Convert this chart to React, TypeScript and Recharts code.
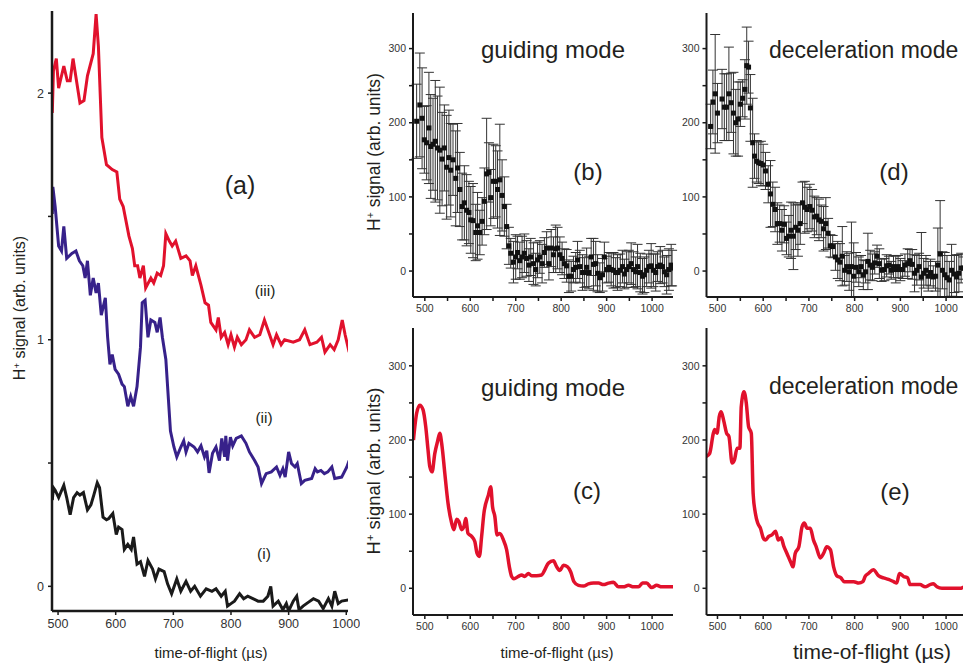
import React from 'react';
import { LineChart, Line, XAxis, YAxis, ComposedChart, Scatter, ErrorBar } from 'recharts';

// panel (a): three stacked traces, time in µs
const aRedTime = [490,492,497,501,510,516,521,526,538,545,551,561,566,570,576,584,594,602,607,613,623,629,633,638,642,648,652,661,666,672,678,683,687,693,698,704,713,722,729,733,739,748,755,761,765,774,778,783,789,795,800,806,811,818,826,832,841,850,858,867,873,879,887,893,908,919,928,937,949,957,963,972,979,986,993,998,1005];
const aRedSignal = [1.92,2.09,2.14,2.02,2.11,2.05,2.05,2.14,1.96,1.97,2.07,2.16,2.32,2.19,1.82,1.71,1.69,1.68,1.57,1.54,1.42,1.37,1.30,1.30,1.25,1.30,1.21,1.25,1.23,1.27,1.26,1.30,1.43,1.40,1.38,1.40,1.33,1.34,1.32,1.26,1.30,1.22,1.15,1.14,1.07,1.04,1.09,1.01,1.03,0.98,1.02,0.97,1.01,0.98,1.00,1.04,1.01,1.02,1.08,1.02,0.98,1.02,0.98,1.00,0.99,1.00,1.04,0.98,0.99,1.01,0.95,0.98,0.96,1.00,1.08,1.02,0.95];

const aPurpleTime = [490,491,495,501,506,510,515,524,531,537,543,547,551,556,561,566,570,575,582,586,590,594,599,605,611,615,621,626,631,637,643,646,651,656,661,668,672,677,681,687,695,701,706,713,718,722,727,736,742,748,754,758,762,768,774,780,784,789,791,794,799,803,809,818,826,832,841,847,853,861,870,879,885,890,894,900,905,911,915,922,928,940,946,950,956,962,968,975,980,992,1001,1005];
const aPurpleSignal = [1.51,1.62,1.54,1.38,1.36,1.46,1.33,1.35,1.36,1.32,1.30,1.25,1.32,1.18,1.25,1.19,1.23,1.10,1.17,1.01,0.90,0.94,0.88,0.86,0.82,0.81,0.73,0.77,0.73,0.81,0.97,1.15,1.16,1.01,1.08,1.07,1.03,1.09,1.01,0.92,0.63,0.565,0.525,0.565,0.59,0.545,0.58,0.565,0.545,0.57,0.525,0.55,0.46,0.54,0.565,0.51,0.60,0.525,0.61,0.51,0.605,0.57,0.60,0.61,0.58,0.545,0.51,0.484,0.417,0.457,0.464,0.484,0.45,0.477,0.443,0.545,0.498,0.484,0.498,0.417,0.43,0.437,0.477,0.464,0.47,0.457,0.464,0.484,0.437,0.443,0.484,0.51];

const aBlackTime = [490,492,495,501,510,515,521,527,533,538,544,551,557,562,568,572,578,584,588,595,601,605,611,615,621,627,631,637,643,650,656,664,669,675,684,690,697,706,713,722,730,737,747,757,767,774,783,790,794,800,806,815,822,829,838,847,856,864,869,873,882,890,896,900,908,914,918,925,934,943,952,960,969,975,980,986,992,1005];
const aBlackSignal = [0.35,0.40,0.39,0.36,0.41,0.36,0.29,0.36,0.38,0.37,0.38,0.31,0.33,0.37,0.42,0.40,0.28,0.27,0.275,0.295,0.21,0.24,0.23,0.15,0.17,0.15,0.20,0.09,0.10,0.04,0.105,0.07,0.03,0.07,0.06,0.01,-0.03,0.03,-0.02,0.02,-0.02,0.00,-0.04,-0.01,-0.02,-0.01,-0.04,-0.02,-0.08,-0.07,-0.06,-0.03,-0.05,-0.04,-0.05,-0.06,-0.06,-0.04,0.00,-0.08,-0.06,-0.095,-0.07,-0.1,-0.06,-0.04,-0.095,-0.08,-0.065,-0.05,-0.06,-0.09,-0.05,-0.08,-0.02,-0.07,-0.06,-0.055];

// panel (b): guiding mode, points with error bars
const bTime = [482,489,494,499,504,509,513,518,523,528,533,538,543,548,553,557,562,568,572,577,582,587,592,597,601,606,612,616,621,626,631,636,641,645,651,656,660,665,670,675,680,685,689,695,700,704,709,714,719,724,729,733,739,744,748,753,758,763,768,773,778,783,788,792,797,802,807,812,817,822,827,832,836,841,847,851,856,861,866,871,876,880,885,891,895,900,905,910,915,920,924,930,935,939,944,949,954,959,964,968,974,979,983,988,993,998,1003,1008,1012,1018,1023,1027,1032,1037,1042,1044];
const bSignal = [202,224,206,177,173,193,168,171,175,166,163,151,166,140,153,136,150,125,139,110,87,92,82,79,69,68,52,61,52,67,94,131,133,99,121,121,110,123,102,87,60,34,24,12,19,25,14,19,24,17,8,19,10,2,15,19,10,25,31,10,31,22,30,31,22,17,10,7,-7,-7,2,5,15,6,-2,-2,5,-2,19,9,10,-3,-9,-5,19,2,5,2,1,-2,-2,1,6,-4,2,6,10,2,-1,6,-2,-7,-5,1,6,7,1,-2,6,8,6,-1,-5,2,8,4];
const bError = [50,70,68,45,50,75,70,62,82,70,85,63,58,70,64,63,48,64,60,50,45,50,48,42,45,50,38,45,30,32,45,75,40,38,50,48,52,75,48,40,30,25,20,28,30,22,25,28,26,24,22,25,28,22,24,22,26,20,22,22,25,24,32,28,24,22,20,22,22,20,18,20,25,22,24,20,26,22,25,35,30,25,20,22,20,18,20,22,24,20,24,22,22,20,24,22,28,24,20,30,26,24,24,22,22,30,22,25,20,25,22,20,26,28,28,24];

// panel (d): deceleration mode, points with error bars
const dTime = [485,490,495,500,510,515,520,525,530,535,540,545,550,555,560,564,568,572,577,581,586,590,595,600,605,611,616,621,626,631,636,641,646,651,656,661,666,671,676,681,686,691,696,702,707,712,717,722,727,732,737,742,747,752,758,763,768,773,778,783,788,793,798,803,809,814,819,824,829,834,839,844,849,854,859,865,870,875,880,885,890,895,900,905,910,916,921,926,931,936,941,946,951,956,961,966,972,977,982,987,992,997,1002,1007,1012,1018,1023,1028,1033,1038];
const dSignal = [195,228,239,213,232,221,221,239,227,213,200,205,225,233,245,277,275,220,173,155,148,146,145,143,135,117,104,90,83,64,64,55,63,44,47,55,47,59,55,64,92,86,83,87,82,73,74,69,67,57,64,51,34,33,19,15,12,20,1,6,-1,6,-7,5,-1,6,-5,-1,13,8,5,11,20,10,1,2,7,8,1,6,2,6,2,2,8,10,14,9,-3,1,6,-8,-3,1,-7,-2,-8,-7,8,23,1,-5,-9,-12,1,-4,-8,-3,4,4];
const dError = [30,43,80,40,40,45,45,63,40,55,45,50,30,25,40,52,35,45,60,30,28,28,30,28,25,25,45,30,30,28,25,28,25,22,28,38,45,30,35,28,28,35,30,30,28,28,25,28,22,30,35,20,15,15,18,25,25,40,20,20,25,60,45,20,20,15,20,15,38,20,18,15,15,20,15,15,15,12,12,15,18,15,15,12,15,20,15,20,25,20,18,60,20,20,20,18,15,20,50,72,25,30,30,25,35,25,30,25,20,15];

// panel (c): guiding mode, simulation
const cTime = [475,482,489,496,502,507,511,516,522,528,533,538,544,551,559,564,570,575,581,586,590,595,603,610,615,620,625,630,640,645,649,654,659,665,673,680,686,691,696,706,713,720,728,735,746,757,764,772,783,790,797,805,814,821,828,838,849,860,871,882,893,904,915,926,937,948,959,970,979,988,999,1010,1021,1032,1046];
const cSignal = [200,236,247,241,218,187,164,157,182,198,209,191,155,115,88,79,93,90,79,83,94,74,70,63,47,43,70,101,126,137,110,97,72,74,65,52,29,16,13,16,18,16,20,17,17,18,25,34,37,29,24,31,29,22,9,4,3,6,7,7,5,7,8,2,2,4,2,2,7,7,1,4,2,2,2];

// panel (e): deceleration mode, simulation
const eTime = [476,483,491,494,499,504,508,514,520,525,532,537,543,549,552,558,563,568,574,578,583,588,594,600,605,612,619,627,633,639,645,652,661,665,670,678,685,690,696,703,710,716,725,732,739,747,754,761,770,777,787,798,809,818,823,830,841,852,863,874,885,892,898,907,916,921,932,943,954,965,972,980,991,1002,1016,1031,1038];
const eSignal = [178,182,209,214,209,232,238,225,209,205,169,173,189,189,245,265,250,218,209,128,101,88,81,68,65,70,72,77,65,68,57,47,34,29,47,56,83,88,81,81,65,56,41,47,56,52,29,17,14,9,9,9,7,9,16,20,25,17,14,12,9,7,20,16,14,5,5,5,2,5,6,2,0,0,0,0,2];

const aTicksX = [500, 600, 700, 800, 900, 1000];
const aTicksY = [0, 0.5, 1, 1.5, 2];
const smallTicksX = [500, 550, 600, 650, 700, 750, 800, 850, 900, 950, 1000];
const smallTicksY = [0, 50, 100, 150, 200, 250, 300];

const FONT = '"Liberation Sans", Arial, Helvetica, sans-serif';
const RED = '#e1112c';
const PURPLE = '#37218a';
const INK = '#1a1a1a';
const ERR_Y_MIN = -35;

const zip = (t: number[], v: number[]) => t.map((x, i) => ({ t: x, v: v[i] }));

// error bars are cut at the bottom axis, as in the original figure
const zipErr = (t: number[], v: number[], e: number[]) =>
  t.map((x, i) => ({ t: x, v: v[i], err: [Math.min(e[i], v[i] - ERR_Y_MIN), e[i]] }));

const square = (p: any) => <rect x={p.cx - 2.5} y={p.cy - 2.5} width={5} height={5} fill="#111" />;

const hundreds = (v: number) => (v % 100 === 0 ? String(v) : '');

function Txt({ x, y, size, children, rotate, left }: any) {
  return (
    <div
      style={{
        position: 'absolute',
        left: x,
        top: y,
        transform: `translate(${left ? '0' : '-50%'},-50%)${rotate ? ' rotate(-90deg)' : ''}`,
        fontSize: size,
        fontFamily: FONT,
        color: '#231f20',
        whiteSpace: 'nowrap',
        lineHeight: 1,
      }}
    >
      {children}
    </div>
  );
}

const ylabel = (
  <>
    H<sup style={{ fontSize: '0.6em', verticalAlign: '0.55em' }}>+</sup> signal (arb. units)
  </>
);

const axisStyle = (w: number) => ({ stroke: INK, strokeWidth: w });
const smallTick = { fill: '#333', fontSize: 10.5, fontFamily: FONT };

function ErrPanel({ data, domainX, width, left, right }: any) {
  // plot area: top 13, bottom 297 (chart height 320)
  return (
    <ComposedChart width={width} height={320} margin={{ top: 13, right, bottom: 0, left: left - 30 }}>
      <XAxis
        type="number"
        dataKey="t"
        domain={domainX}
        allowDataOverflow
        ticks={smallTicksX}
        interval={0}
        tickFormatter={hundreds}
        height={23}
        tickSize={4}
        tickMargin={4}
        axisLine={axisStyle(2)}
        tickLine={axisStyle(1.5)}
        tick={smallTick}
      />
      <YAxis
        type="number"
        dataKey="v"
        domain={[ERR_Y_MIN, 348]}
        allowDataOverflow
        ticks={smallTicksY}
        interval={0}
        tickFormatter={hundreds}
        width={30}
        tickSize={4}
        tickMargin={3}
        axisLine={axisStyle(2)}
        tickLine={axisStyle(1.5)}
        tick={smallTick}
      />
      <Scatter data={data} dataKey="v" shape={square} isAnimationActive={false}>
        <ErrorBar dataKey="err" direction="y" width={5} stroke="#333" strokeWidth={1} />
      </Scatter>
    </ComposedChart>
  );
}

function SimPanel({ data, domainX, width, left, right }: any) {
  // plot area: top 8, bottom 295 (chart height 345)
  return (
    <LineChart width={width} height={345} margin={{ top: 8, right, bottom: 27, left: left - 30 }}>
      <XAxis
        type="number"
        dataKey="t"
        domain={domainX}
        allowDataOverflow
        ticks={smallTicksX}
        interval={0}
        tickFormatter={hundreds}
        height={23}
        tickSize={4}
        tickMargin={4}
        axisLine={axisStyle(2)}
        tickLine={axisStyle(1.5)}
        tick={smallTick}
      />
      <YAxis
        type="number"
        domain={[-36, 351]}
        allowDataOverflow
        ticks={smallTicksY}
        interval={0}
        tickFormatter={hundreds}
        width={30}
        tickSize={4}
        tickMargin={3}
        axisLine={axisStyle(2)}
        tickLine={axisStyle(1.5)}
        tick={smallTick}
      />
      <Line data={data} dataKey="v" type="monotone" dot={false} stroke={RED} strokeWidth={3.5} isAnimationActive={false} />
    </LineChart>
  );
}

export default function App() {
  const red = zip(aRedTime, aRedSignal);
  const purple = zip(aPurpleTime, aPurpleSignal);
  const black = zip(aBlackTime, aBlackSignal);

  return (
    <div style={{ position: 'relative', width: 963, height: 665, overflow: 'hidden', background: '#fff' }}>
      <style>{'body{margin:0}'}</style>

      <div style={{ position: 'absolute', left: 0, top: 0 }}>
        {/* plot area: x 52..348, y 11..611 */}
        <LineChart width={360} height={640} margin={{ top: 11, right: 12, bottom: 4, left: 12 }}>
          <XAxis
            type="number"
            dataKey="t"
            domain={[489.5, 1003]}
            allowDataOverflow
            ticks={aTicksX}
            interval={0}
            height={25}
            tickSize={4}
            tickMargin={4}
            axisLine={axisStyle(2.5)}
            tickLine={axisStyle(1.5)}
            tick={{ fill: '#333', fontSize: 12.5, fontFamily: FONT }}
          />
          <YAxis
            type="number"
            domain={[-0.1, 2.333]}
            allowDataOverflow
            ticks={aTicksY}
            interval={0}
            tickFormatter={(v: number) => (Number.isInteger(v) ? String(v) : '')}
            width={40}
            tickSize={4}
            tickMargin={4}
            axisLine={axisStyle(2.5)}
            tickLine={axisStyle(1.5)}
            tick={{ fill: '#333', fontSize: 12.5, fontFamily: FONT }}
          />
          <Line data={red} dataKey="v" type="linear" dot={false} stroke={RED} strokeWidth={3} isAnimationActive={false} />
          <Line data={purple} dataKey="v" type="linear" dot={false} stroke={PURPLE} strokeWidth={3} isAnimationActive={false} />
          <Line data={black} dataKey="v" type="linear" dot={false} stroke={INK} strokeWidth={3} isAnimationActive={false} />
        </LineChart>
      </div>

      <div style={{ position: 'absolute', left: 360, top: 0 }}>
        <ErrPanel data={zipErr(bTime, bSignal, bError)} domainX={[474, 1046]} width={320} left={53} right={7} />
      </div>
      <div style={{ position: 'absolute', left: 680, top: 0 }}>
        <ErrPanel data={zipErr(dTime, dSignal, dError)} domainX={[476, 1037]} width={283} left={26.5} right={0} />
      </div>
      <div style={{ position: 'absolute', left: 360, top: 320 }}>
        <SimPanel data={zip(cTime, cSignal)} domainX={[474, 1046]} width={320} left={53} right={7} />
      </div>
      <div style={{ position: 'absolute', left: 680, top: 320 }}>
        <SimPanel data={zip(eTime, eSignal)} domainX={[476, 1037]} width={283} left={26.5} right={0} />
      </div>

      <Txt x={20} y={308} size={16} rotate>{ylabel}</Txt>
      <Txt x={374} y={152} size={17.5} rotate>{ylabel}</Txt>
      <Txt x={374} y={471} size={18.5} rotate>{ylabel}</Txt>

      <Txt x={211} y={652} size={15}>time-of-flight (µs)</Txt>
      <Txt x={557} y={652} size={15}>time-of-flight (µs)</Txt>
      <Txt x={872} y={651} size={21}>time-of-flight (µs)</Txt>

      <Txt x={240} y={185} size={25}>(a)</Txt>
      <Txt x={265} y={291} size={15.5}>(iii)</Txt>
      <Txt x={264} y={418} size={15.5}>(ii)</Txt>
      <Txt x={264} y={554} size={15.5}>(i)</Txt>

      <Txt x={553} y={50} size={24}>guiding mode</Txt>
      <Txt x={769} y={50} size={23} left>deceleration mode</Txt>
      <Txt x={588} y={172} size={24}>(b)</Txt>
      <Txt x={894} y={172} size={24}>(d)</Txt>

      <Txt x={553} y={388} size={24}>guiding mode</Txt>
      <Txt x={769} y={386} size={23} left>deceleration mode</Txt>
      <Txt x={587} y={491} size={24}>(c)</Txt>
      <Txt x={895} y={492} size={24}>(e)</Txt>
    </div>
  );
}
